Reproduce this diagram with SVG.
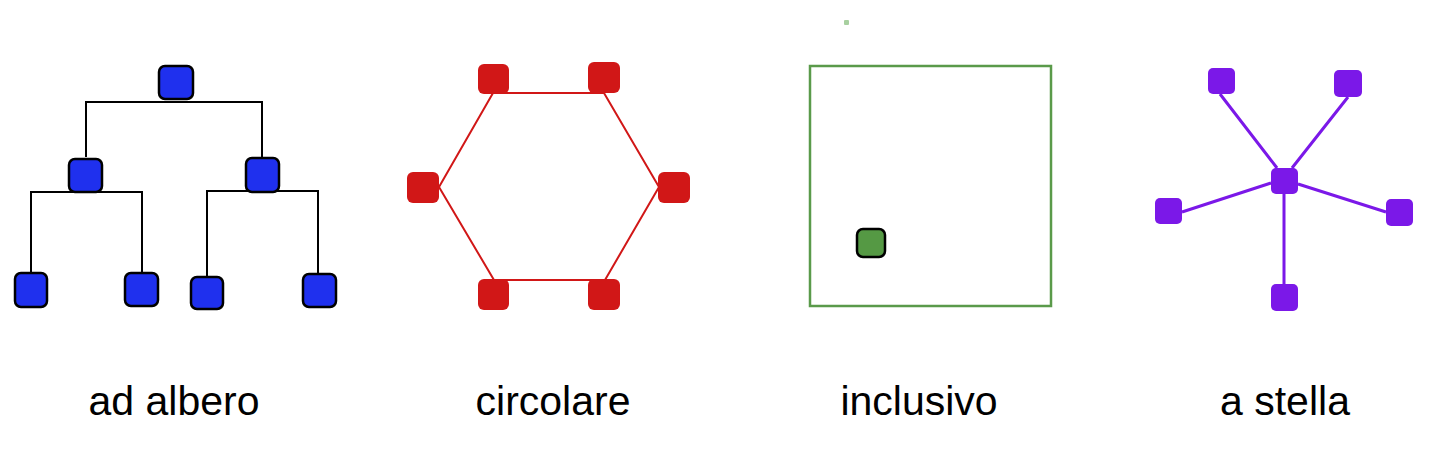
<svg xmlns="http://www.w3.org/2000/svg" width="1440" height="468" viewBox="0 0 1440 468">
<style>
.tn{fill:#1f30ee;stroke:#000;stroke-width:2.5}
.tl{fill:none;stroke:#000;stroke-width:2}
.rn{fill:#d11717}
.rl{fill:none;stroke:#d11717;stroke-width:2}
.gn{fill:#559944;stroke:#000;stroke-width:2.5}
.pn{fill:#7b18e8}
.pl{fill:none;stroke:#7b18e8;stroke-width:3}
.lbl{font-family:"Liberation Sans",Arial,sans-serif;font-size:41px;fill:#000;text-anchor:middle}
</style>
<rect width="1440" height="468" fill="#fff"/>
<g id="connectors">
<path class="tl" d="M86,157V102H262V158M31,275V192H142V273M207,277V191H318V274"/>
<polygon class="rl" points="493,93 604,93 659,187 605,280 494,280 439,187"/>
<path class="pl" d="M1220,94L1277,168M1348,97L1292,168M1182,212L1271,183M1298,184L1386,212M1284,194V288"/>
</g>
<g id="tree-root"><rect class="tn" x="159" y="66" width="34" height="33" rx="6"/></g>
<g id="tree-l"><rect class="tn" x="69" y="159" width="33" height="33" rx="6"/></g>
<g id="tree-r"><rect class="tn" x="246" y="158" width="33" height="34" rx="6"/></g>
<g id="tree-ll"><rect class="tn" x="15" y="273" width="32" height="34" rx="6"/></g>
<g id="tree-lr"><rect class="tn" x="125" y="273" width="33" height="33" rx="6"/></g>
<g id="tree-rl"><rect class="tn" x="191" y="277" width="32" height="32" rx="6"/></g>
<g id="tree-rr"><rect class="tn" x="303" y="274" width="33" height="33" rx="6"/></g>
<g id="ring-tl"><rect class="rn" x="478" y="64" width="31" height="30" rx="6"/></g>
<g id="ring-tr"><rect class="rn" x="588" y="62" width="32" height="31" rx="6"/></g>
<g id="ring-l"><rect class="rn" x="407" y="172" width="32" height="31" rx="6"/></g>
<g id="ring-r"><rect class="rn" x="658" y="172" width="32" height="31" rx="6"/></g>
<g id="ring-bl"><rect class="rn" x="478" y="279" width="31" height="31" rx="6"/></g>
<g id="ring-br"><rect class="rn" x="588" y="279" width="32" height="31" rx="6"/></g>
<g id="incl-box"><rect x="810" y="66" width="241" height="240" fill="none" stroke="#5a9a4a" stroke-width="2.5"/></g>
<g id="incl-node"><rect class="gn" x="857" y="229" width="28" height="28" rx="6"/></g>
<rect x="844" y="20" width="5" height="5" rx="1" fill="#a8d0a0"/>
<g id="star-c"><rect class="pn" x="1271" y="168" width="27" height="26" rx="5"/></g>
<g id="star-tl"><rect class="pn" x="1208" y="68" width="27" height="26" rx="5"/></g>
<g id="star-tr"><rect class="pn" x="1334" y="70" width="28" height="27" rx="5"/></g>
<g id="star-l"><rect class="pn" x="1155" y="198" width="27" height="26" rx="5"/></g>
<g id="star-r"><rect class="pn" x="1386" y="199" width="27" height="27" rx="5"/></g>
<g id="star-b"><rect class="pn" x="1271" y="284" width="27" height="27" rx="5"/></g>
<g id="labels">
<text class="lbl" x="174" y="415">ad albero</text>
<text class="lbl" x="553" y="415">circolare</text>
<text class="lbl" x="919" y="415">inclusivo</text>
<text class="lbl" x="1285" y="415">a stella</text>
</g>
</svg>
